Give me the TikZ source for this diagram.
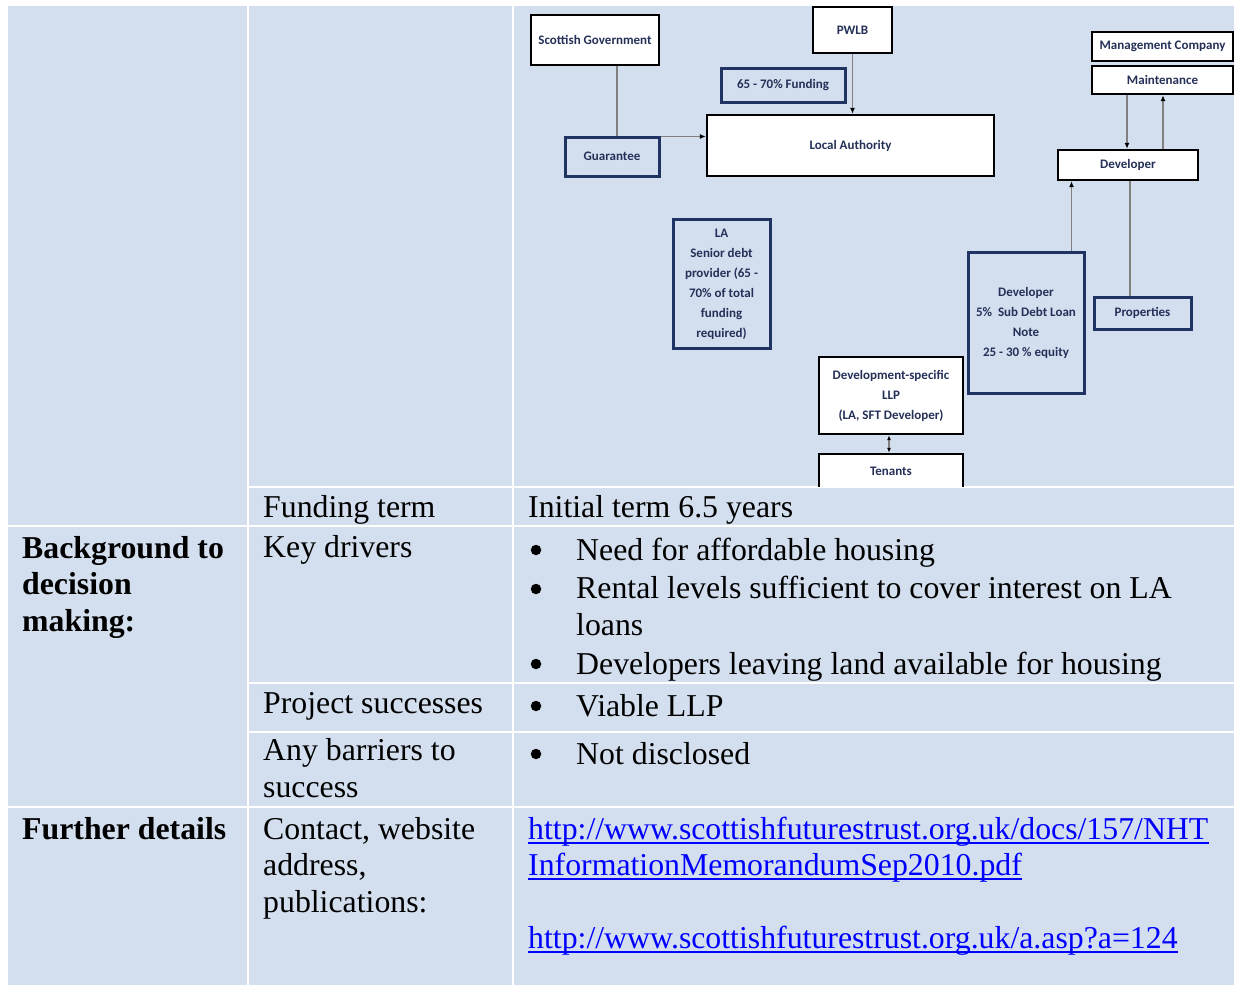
\documentclass[tikz,border=0pt]{standalone}
\usepackage{fontspec}
\setmainfont{Liberation Serif}
\newfontfamily\diagfont{Carlito}
\usepackage{tikz}
\usetikzlibrary{arrows.meta,positioning}
\definecolor{cellblue}{RGB}{211,223,238}
\definecolor{boxnavy}{RGB}{31,52,98}
\definecolor{boxtext}{RGB}{36,48,88}
\definecolor{linkblue}{RGB}{0,0,255}
\definecolor{conngrey}{RGB}{128,128,128}

\tikzset{
  cell/.style={fill=cellblue},
  tabtext/.style={font=\fontsize{31.8}{36.5}\selectfont, anchor=base west, inner sep=0pt, align=left},
  tabhead/.style={tabtext, font=\fontsize{31.8}{36.5}\selectfont\bfseries},
  bulletdot/.style={circle, fill=black, minimum size=10.5pt, inner sep=0pt},
  link/.style={tabtext, text=linkblue},
  linkline/.style={draw=linkblue, line width=2pt},
  whitebox/.style={draw=black, line width=2.4pt, fill=white, text=boxtext,
    font=\diagfont\bfseries\fontsize{13}{20}\selectfont, align=center, inner sep=0pt},
  navybox/.style={whitebox, draw=boxnavy, line width=3pt, fill=cellblue},
  conn/.style={draw=conngrey, line width=1.4pt},
  arr/.style={conn, -{Latex[length=6pt,width=5pt,black]}},
  dblarr/.style={conn, {Latex[length=5pt,width=4pt,black]}-{Latex[length=5pt,width=4pt,black]}}
}

\begin{document}
\begin{tikzpicture}[x=1pt,y=-1pt]
\useasboundingbox (0,0) rectangle (1234,985);
\fill[white] (0,0) rectangle (1234,985);

% First column cells
\fill[cell] (8,6) rectangle (247,525);
\fill[cell] (8,527) rectangle (247,806);
\fill[cell] (8,808) rectangle (247,985);

% Second column cells
\fill[cell] (249,6) rectangle (512,486);
\fill[cell] (249,488) rectangle (512,525);
\fill[cell] (249,527) rectangle (512,682);
\fill[cell] (249,684) rectangle (512,731);
\fill[cell] (249,733) rectangle (512,806);
\fill[cell] (249,808) rectangle (512,985);

% Third column cells
\fill[cell] (514,6) rectangle (1234,486);
\fill[cell] (514,488) rectangle (1234,525);
\fill[cell] (514,527) rectangle (1234,682);
\fill[cell] (514,684) rectangle (1234,731);
\fill[cell] (514,733) rectangle (1234,806);
\fill[cell] (514,808) rectangle (1234,985);

% Funding diagram
\begin{scope}
\clip (514,6) rectangle (1234,486);
\node[whitebox, minimum width=128pt, minimum height=50pt] (sg) at (595,40) {Scottish Government};
\node[whitebox, minimum width=79pt, minimum height=46pt] (pwlb) at (852.5,30) {PWLB};
\node[navybox, minimum width=124pt, minimum height=34pt] (fund) at (783,85) {65 - 70\% Funding};
\node[whitebox, minimum width=287pt, minimum height=61pt] (la) at (850.5,145.5) {Local Authority};
\node[navybox, minimum width=94pt, minimum height=39pt] (guar) at (612,156.5) {Guarantee};
\node[whitebox, minimum width=141pt, minimum height=29pt] (mgmt) at (1162.5,46.5) {Management Company};
\node[whitebox, minimum width=141pt, minimum height=28pt] (maint) at (1162.5,80) {Maintenance};
\node[whitebox, minimum width=140pt, minimum height=30pt] (dev) at (1128,165) {Developer};
\node[navybox, minimum width=116pt, minimum height=141pt] (note) at (1026,322.5)
  {Developer\\5\%\ \ Sub Debt Loan\\Note\\25 - 30 \% equity};
\node[navybox, minimum width=97pt, minimum height=32pt] (props) at (1142.5,313) {Properties};
\node[navybox, minimum width=97pt, minimum height=129pt] (seniorla) at (721.5,284)
  {LA\\Senior debt\\provider (65 -\\70\% of total\\funding\\required)};
\node[whitebox, minimum width=144pt, minimum height=77pt] (llp) at (891,395.5)
  {Development-specific\\LLP\\(LA, SFT Developer)};
\node[whitebox, minimum width=144pt, minimum height=34pt] (ten) at (891,471) {Tenants};

% Connectors
\draw[conn] ([xshift=5pt]guar.north) -- ([xshift=5pt]guar.north |- sg.south);
\draw[arr] ([yshift=-1pt]guar.north east) -- ([yshift=-1pt]guar.north east -| la.west);
\draw[arr] (pwlb.south) -- (pwlb.south |- la.north);
\draw[arr] ([xshift=-1pt]dev.north |- maint.south) -- ([xshift=-1pt]dev.north);
\draw[arr] ([xshift=35pt]dev.north) -- ([xshift=35pt]dev.north |- maint.south);
\draw[arr] ([xshift=45.5pt]note.north) -- ([xshift=45.5pt]note.north |- dev.south);
\draw[conn] ([xshift=-12.5pt]props.north) -- ([xshift=-12.5pt]props.north |- dev.south);
\draw[dblarr] ([xshift=-2pt]llp.south) -- ([xshift=-2pt]ten.north);
\end{scope}

% Funding term row
\node[tabtext] (fterm) at (263,517) {Funding term};
\node[tabtext] (fval) at (528,517) {Initial term 6.5 years};

% Background rows (multi-line texts sit on their last baseline)
\node[tabhead] (bg) at (22,631) {Background to\\decision\\making:};
\node[tabtext] (kd) at (263,557) {Key drivers};
\node[bulletdot] (kdb1) at (536,550) {};
\node[tabtext] (kd1) at (576,560) {Need for affordable housing};
\node[bulletdot] (kdb2) at (536,589) {};
\node[tabtext] (kd2) at (576,635) {Rental levels sufficient to cover interest on LA\\loans};
\node[bulletdot] (kdb3) at (536,664) {};
\node[tabtext] (kd3) at (576,674) {Developers leaving land available for housing};
\node[tabtext] (ps) at (263,713) {Project successes};
\node[bulletdot] (psb) at (536,706) {};
\node[tabtext] (ps1) at (576,716) {Viable LLP};
\node[tabtext] (ab) at (263,797) {Any barriers to\\success};
\node[bulletdot] (abb) at (536,754) {};
\node[tabtext] (ab1) at (576,764) {Not disclosed};

% Further details row
\node[tabhead] (fd) at (22,839) {Further details};
\node[tabtext] (cw) at (263,912) {Contact, website\\address,\\publications:};
\node[link] (urla) at (528,839) {http://www.scottishfuturestrust.org.uk/docs/157/NHT};
\node[link] (urlb) at (528,875) {InformationMemorandumSep2010.pdf};
\node[link] (urlc) at (528,948) {http://www.scottishfuturestrust.org.uk/a.asp?a=124};
\draw[linkline] ([yshift=-4pt]urla.base west) -- ([yshift=-4pt]urla.base east);
\draw[linkline] ([yshift=-4pt]urlb.base west) -- ([yshift=-4pt]urlb.base east);
\draw[linkline] ([yshift=-4pt]urlc.base west) -- ([yshift=-4pt]urlc.base east);
\end{tikzpicture}
\end{document}
